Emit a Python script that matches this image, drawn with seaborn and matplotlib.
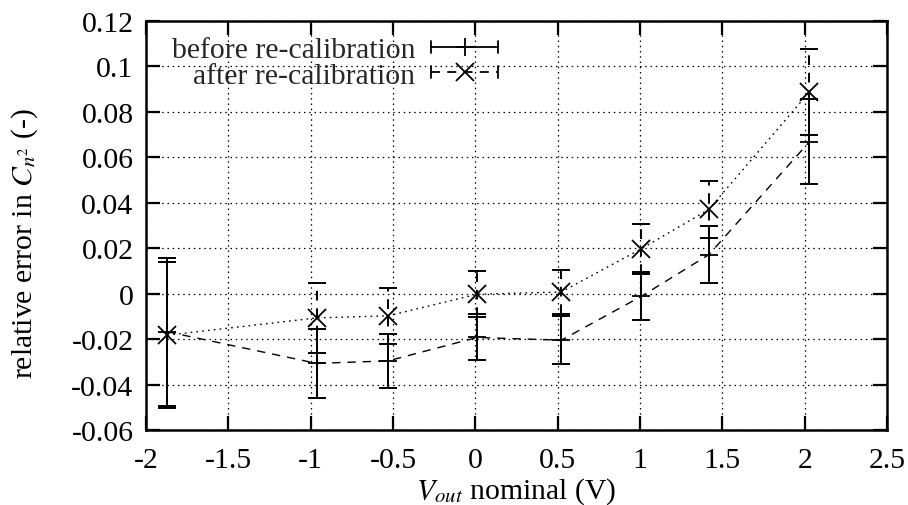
import matplotlib
matplotlib.use("Agg")
import matplotlib.pyplot as plt
import seaborn as sns
import pandas as pd
from matplotlib.lines import Line2D
from matplotlib.legend_handler import HandlerBase

# ---- data ----
v_nominal = [-1.87, -0.964, -0.53, 0.011, 0.522, 1.008, 1.418, 2.029]
before = [-0.0168, -0.0307, -0.0296, -0.0193, -0.0205, -0.0012, 0.0171, 0.0668]
before_err = [0.0326, 0.0153, 0.0120, 0.0101, 0.0105, 0.0106, 0.0124, 0.0187]
after = [-0.0183, -0.0107, -0.0098, -0.0003, 0.0007, 0.0197, 0.0370, 0.0887]
after_err = [0.0320, 0.0154, 0.0123, 0.0101, 0.0095, 0.0110, 0.0124, 0.0188]
x_ticks = [-2, -1.5, -1, -0.5, 0, 0.5, 1, 1.5, 2, 2.5]
y_ticks = [-0.06, -0.04, -0.02, 0, 0.02, 0.04, 0.06, 0.08, 0.1, 0.12]
labels = ["before re-calibration", "after re-calibration"]

df = pd.DataFrame({"v": v_nominal, "before": before, "before_err": before_err,
                   "after": after, "after_err": after_err})

sns.set_theme(style="white")
plt.rcParams["font.family"] = ["Liberation Serif", "DejaVu Serif"]
plt.rcParams["mathtext.fontset"] = "stix"
plt.rcParams["axes.unicode_minus"] = False

fig = plt.figure(figsize=(9.08, 5.06), dpi=100)
ax = fig.add_axes([0.1608, 0.1482, 0.8161, 0.8089])

FS = 21.4
DOT = (0, (1.2, 3.0))
DASH = (0, (6, 5))
DASH_EB = (0, (5, 4))
MS = 13
MEW = 1.3

# grid
ax.set_axisbelow(True)
ax.grid(True, color="black", linestyle=DOT, linewidth=0.9)

# connecting lines via seaborn
sns.lineplot(data=df, x="v", y="before", ax=ax, color="black", linewidth=1.0,
             sort=False)
ln_before = ax.lines[-1]
sns.lineplot(data=df, x="v", y="after", ax=ax, color="black", linewidth=1.0,
             sort=False)
ln_after = ax.lines[-1]
ln_before.set_linestyle(DASH)
ln_after.set_linestyle(DOT)
for ln, mk in ((ln_before, "+"), (ln_after, "x")):
    ln.set_marker(mk)
    ln.set_markersize(MS)
    ln.set_markeredgewidth(MEW)
    ln.set_markeredgecolor("black")
    ln.set_markerfacecolor("none")
    ln.set_zorder(4)

# error bars
eb1 = ax.errorbar(df["v"], df["before"], yerr=df["before_err"], fmt="none",
                  ecolor="black", elinewidth=1.4, capsize=6.5, capthick=1.4)
eb2 = ax.errorbar(df["v"], df["after"], yerr=df["after_err"], fmt="none",
                  ecolor="black", elinewidth=1.4, capsize=6.5, capthick=1.4)
for lc in eb2[2]:
    lc.set_linestyle(DASH_EB)

ax.set_xlim(-2, 2.5)
ax.set_ylim(-0.06, 0.12)
ax.set_xticks(x_ticks)
ax.set_xticklabels([f"{t:g}" for t in x_ticks])
ax.set_yticks(y_ticks)
ax.set_yticklabels([f"{t:g}" for t in y_ticks])
ax.tick_params(axis="both", which="major", direction="in", length=10, width=1.6,
               labelsize=FS, top=True, right=True, bottom=True, left=True,
               colors="black")
ax.tick_params(axis="x", pad=12)
ax.tick_params(axis="y", pad=9)
for s in ax.spines.values():
    s.set_visible(True)
    s.set_color("black")
    s.set_linewidth(1.8)

ax.set_xlabel(r"$V_{out}$ nominal (V)", fontsize=FS, color="black", labelpad=2)
ax.set_ylabel(r"relative error in $C_{n^2}$ (-)", fontsize=FS, color="black")
ax.yaxis.set_label_coords(-0.143, 0.459)


class EBHandler(HandlerBase):
    def __init__(self, ls, marker):
        super().__init__()
        self.ls = ls
        self.marker = marker

    def create_artists(self, legend, orig_handle, xdescent, ydescent, width,
                       height, fontsize, trans):
        y = height / 2 - ydescent
        x0, x1 = -xdescent, width - xdescent
        h = 4.5
        arts = [
            Line2D([x0, x1], [y, y], color="black", lw=1.3, linestyle=self.ls),
            Line2D([x0, x0], [y - h, y + h], color="black", lw=1.3, linestyle="-"),
            Line2D([x1, x1], [y - h, y + h], color="black", lw=1.3, linestyle="-"),
            Line2D([(x0 + x1) / 2], [y], color="black", marker=self.marker,
                   markersize=MS, markeredgewidth=MEW, linestyle="none"),
        ]
        for a in arts:
            a.set_transform(trans)
        return arts


h1 = Line2D([], [])
h2 = Line2D([], [])
ax.legend([h1, h2], labels, loc="upper right", bbox_to_anchor=(0.4915, 0.99),
          frameon=False, fontsize=FS, markerfirst=False, handlelength=2.25,
          handletextpad=0.55, labelspacing=-0.06, borderaxespad=0,
          handler_map={h1: EBHandler("-", "+"), h2: EBHandler(DASH_EB, "x")})

fig.savefig("out.png", dpi=100)
